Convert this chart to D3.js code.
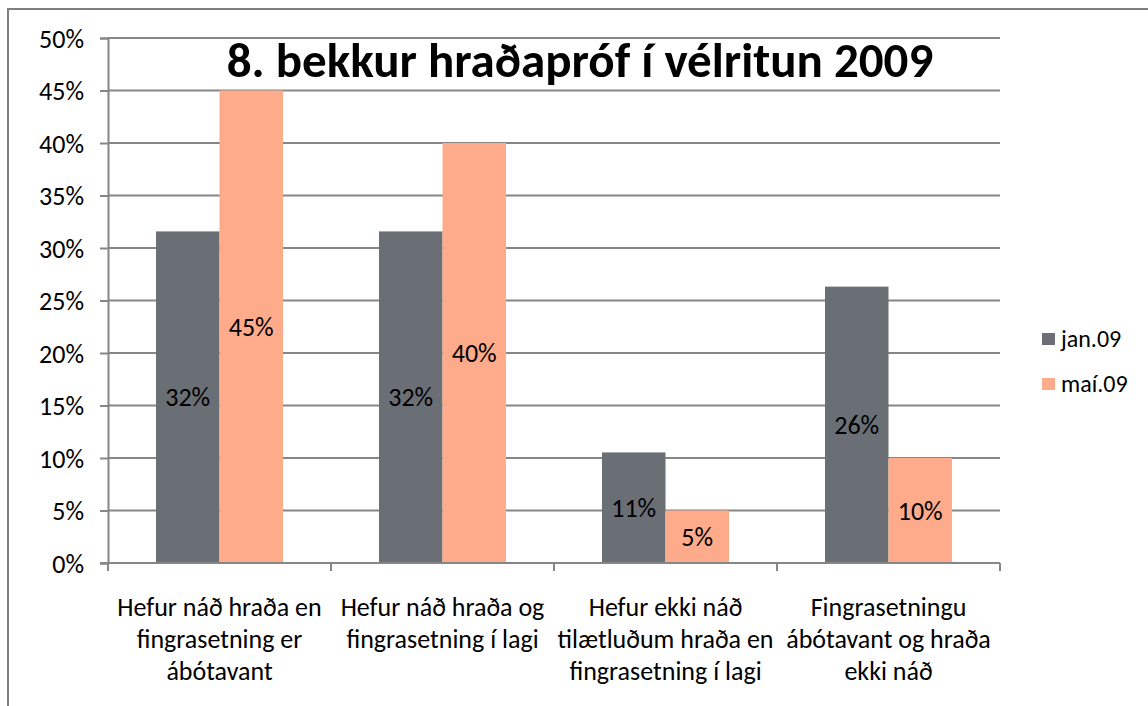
<!DOCTYPE html>
<html>
  <head>
    <meta charset="utf-8">
    <title>8. bekkur hraðapróf í vélritun 2009</title>
    <style>
      body { margin: 0; background: #fff; }
      svg text { font-family: Carlito, Lato, "Open Sans", sans-serif; fill: #000; }
    </style>
  </head>
  <body>
    <div id="vis"></div>
    <script src="https://d3js.org/d3.v7.min.js"></script>
    <script>
    // data
    let categories = ["c1", "c2", "c3", "c4"];
    let catLines = [
      ["Hefur náð hraða en", "fingrasetning er", "ábótavant"],
      ["Hefur náð hraða og", "fingrasetning í lagi"],
      ["Hefur ekki náð", "tilætluðum hraða en", "fingrasetning í lagi"],
      ["Fingrasetningu", "ábótavant og hraða", "ekki náð"]
    ];
    let seriesNames = ["jan.09", "maí.09"];
    let jan09 = [0.3158, 0.3158, 0.1053, 0.2632];
    let mai09 = [0.45, 0.40, 0.05, 0.10];
    let yTicks = [0, 0.05, 0.10, 0.15, 0.20, 0.25, 0.30, 0.35, 0.40, 0.45, 0.50];
    let title = "8. bekkur hraðapróf í vélritun 2009";

    let colors = ["#6a6e75", "#fdab8a"];
    let w = 1148, h = 706;
    let plot = {left: 108, right: 1000, top: 38, bottom: 563};

    let svg = d3.select("#vis").append("svg")
                .attr("width", w)
                .attr("height", h);

    // outer frame (runs past the right and bottom edge)
    svg.append("rect")
       .attr("x", 8).attr("y", 9)
       .attr("width", w + 20).attr("height", h + 20)
       .style("fill", "none")
       .style("stroke", "#7f7f7f")
       .style("stroke-width", 2);

    let x = d3.scaleBand().domain(categories)
              .range([plot.left, plot.right]);
    let x1 = d3.scaleBand().domain(seriesNames)
               .range([0, x.bandwidth()])
               .paddingOuter(0.756);
    let y = d3.scaleLinear().domain([0, 0.5])
              .range([plot.bottom, plot.top]);

    // gridlines
    svg.append("g").selectAll("line")
       .data(yTicks.slice(1))
       .enter().append("line")
       .attr("x1", plot.left).attr("x2", plot.right)
       .attr("y1", d => y(d)).attr("y2", d => y(d))
       .style("stroke", "#868686")
       .style("stroke-width", 2);

    // y axis
    let yAxis = svg.append("g")
       .attr("transform", "translate(" + plot.left + ",0)")
       .call(d3.axisLeft(y).tickValues(yTicks).tickSize(8).tickPadding(16)
               .tickFormat(d3.format(".0%")));
    yAxis.select(".domain").style("stroke", "#868686").style("stroke-width", 2);
    yAxis.selectAll(".tick line").style("stroke", "#868686").style("stroke-width", 2);
    yAxis.selectAll("text").style("font-size", "26px").attr("dy", "0.35em");

    // bars
    let series = [jan09, mai09];
    series.forEach(function(vals, s) {
      let g = svg.append("g");
      g.selectAll("rect")
       .data(vals)
       .enter().append("rect")
       .attr("x", (d, i) => x(categories[i]) + x1(seriesNames[s]))
       .attr("width", x1.bandwidth())
       .attr("y", d => y(d))
       .attr("height", d => y(0) - y(d))
       .style("fill", colors[s]);
      g.selectAll("text")
       .data(vals)
       .enter().append("text")
       .attr("x", (d, i) => x(categories[i]) + x1(seriesNames[s]) + x1.bandwidth() / 2)
       .attr("y", d => (y(d) + y(0)) / 2)
       .attr("dy", "0.35em")
       .attr("text-anchor", "middle")
       .style("font-size", "26px")
       .text(d => d3.format(".0%")(d));
    });

    // x axis
    let xAxis = svg.append("g")
       .attr("transform", "translate(0," + plot.bottom + ")");
    xAxis.append("line")
       .attr("x1", plot.left - 8).attr("x2", plot.right)
       .style("stroke", "#868686").style("stroke-width", 2);
    xAxis.selectAll(".sep")
       .data(d3.range(categories.length + 1))
       .enter().append("line")
       .attr("x1", i => plot.left + i * x.bandwidth())
       .attr("x2", i => plot.left + i * x.bandwidth())
       .attr("y1", 0).attr("y2", 8)
       .style("stroke", "#868686").style("stroke-width", 2);
    categories.forEach(function(c, i) {
      let t = xAxis.append("text")
         .attr("text-anchor", "middle")
         .attr("transform", "translate(" + (x(c) + x.bandwidth() / 2) + ",53)")
         .style("font-size", "26px");
      catLines[i].forEach(function(line, k) {
        t.append("tspan").attr("x", 0).attr("y", k * 32).text(line);
      });
    });

    // title
    svg.append("text")
       .attr("x", 580).attr("y", 77)
       .attr("text-anchor", "middle")
       .style("font-size", "49px")
       .style("font-weight", "bold")
       .text(title);

    // legend
    let legend = svg.append("g").attr("transform", "translate(1042,339)");
    seriesNames.forEach(function(n, i) {
      let row = legend.append("g").attr("transform", "translate(0," + i * 45 + ")");
      row.append("rect")
         .attr("x", 0).attr("y", -6)
         .attr("width", 13).attr("height", 12)
         .style("fill", colors[i]);
      row.append("text")
         .attr("x", 19).attr("dy", "0.35em")
         .style("font-size", "24px")
         .text(n);
    });
    </script>
  </body>
</html>
